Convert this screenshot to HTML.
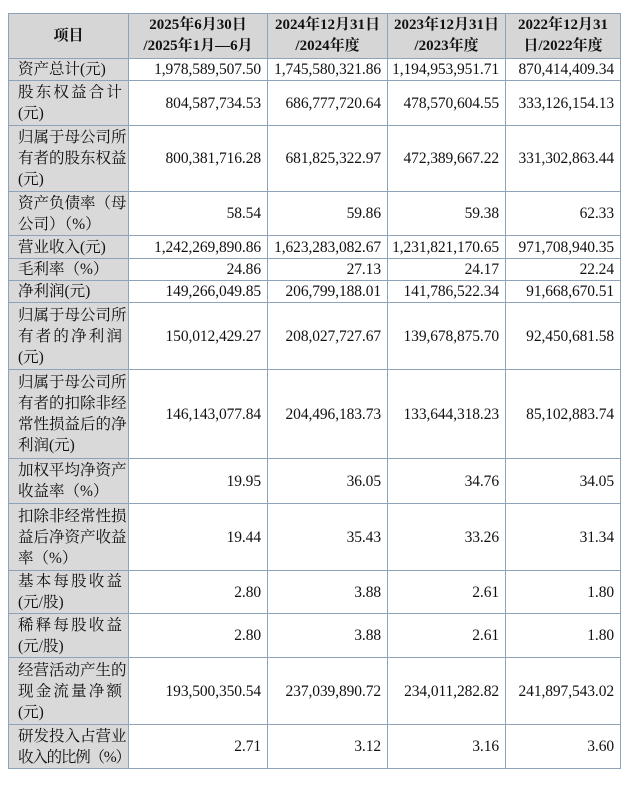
<!DOCTYPE html>
<html><head><meta charset="utf-8"><style>
html,body{margin:0;padding:0;background:#fff;width:640px;height:785px;overflow:hidden}
table{position:absolute;left:8px;top:13px;width:612px;border-collapse:collapse;table-layout:fixed;font-family:"Liberation Serif","Noto Serif CJK SC",serif;font-size:15px;color:#111}
td,th{border:1.3px solid #8ea3ba;padding:0;line-height:21px;vertical-align:middle;overflow:hidden}
th{background:#d6d6d6;font-weight:bold;text-align:center;font-size:15px;white-space:nowrap}
td.l{background:#d9d9d9;padding:0 6px 0 9px;font-size:15.5px}
td.l span{display:block;white-space:nowrap}
td.l span.j{text-align:justify;text-align-last:justify}
td.l span.t{letter-spacing:-1.2px}
td.n{text-align:right;padding-right:6px;white-space:nowrap;font-size:15.5px;letter-spacing:-0.1px}
</style></head><body>
<table>
<colgroup><col style="width:120px"><col style="width:139px"><col style="width:120px"><col style="width:118px"><col style="width:115px"></colgroup>
<tr style="height:45px"><th>项目</th><th>2025年6月30日<br>/2025年1月—6月</th><th>2024年12月31日<br>/2024年度</th><th>2023年12月31日<br>/2023年度</th><th>2022年12月31<br>日/2022年度</th></tr>
<tr style="height:22px"><td class="l"><span>资产总计(元)</span></td><td class="n">1,978,589,507.50</td><td class="n">1,745,580,321.86</td><td class="n">1,194,953,951.71</td><td class="n">870,414,409.34</td></tr>
<tr style="height:45px"><td class="l"><span class="j">股东权益合计</span><span>(元)</span></td><td class="n">804,587,734.53</td><td class="n">686,777,720.64</td><td class="n">478,570,604.55</td><td class="n">333,126,154.13</td></tr>
<tr style="height:66px"><td class="l"><span class="j">归属于母公司所</span><span class="j">有者的股东权益</span><span>(元)</span></td><td class="n">800,381,716.28</td><td class="n">681,825,322.97</td><td class="n">472,389,667.22</td><td class="n">331,302,863.44</td></tr>
<tr style="height:44px"><td class="l"><span class="j">资产负债率（母</span><span>公司）（%）</span></td><td class="n">58.54</td><td class="n">59.86</td><td class="n">59.38</td><td class="n">62.33</td></tr>
<tr style="height:23px"><td class="l"><span>营业收入(元)</span></td><td class="n">1,242,269,890.86</td><td class="n">1,623,283,082.67</td><td class="n">1,231,821,170.65</td><td class="n">971,708,940.35</td></tr>
<tr style="height:22px"><td class="l"><span>毛利率（%）</span></td><td class="n">24.86</td><td class="n">27.13</td><td class="n">24.17</td><td class="n">22.24</td></tr>
<tr style="height:22px"><td class="l"><span>净利润(元)</span></td><td class="n">149,266,049.85</td><td class="n">206,799,188.01</td><td class="n">141,786,522.34</td><td class="n">91,668,670.51</td></tr>
<tr style="height:67px"><td class="l"><span class="j">归属于母公司所</span><span class="j">有者的净利润</span><span>(元)</span></td><td class="n">150,012,429.27</td><td class="n">208,027,727.67</td><td class="n">139,678,875.70</td><td class="n">92,450,681.58</td></tr>
<tr style="height:89px"><td class="l"><span class="j">归属于母公司所</span><span class="j">有者的扣除非经</span><span class="j">常性损益后的净</span><span>利润(元)</span></td><td class="n">146,143,077.84</td><td class="n">204,496,183.73</td><td class="n">133,644,318.23</td><td class="n">85,102,883.74</td></tr>
<tr style="height:45px"><td class="l"><span class="j">加权平均净资产</span><span>收益率（%）</span></td><td class="n">19.95</td><td class="n">36.05</td><td class="n">34.76</td><td class="n">34.05</td></tr>
<tr style="height:67px"><td class="l"><span class="j">扣除非经常性损</span><span class="j">益后净资产收益</span><span>率（%）</span></td><td class="n">19.44</td><td class="n">35.43</td><td class="n">33.26</td><td class="n">31.34</td></tr>
<tr style="height:43px"><td class="l"><span class="j">基本每股收益</span><span>(元/股)</span></td><td class="n">2.80</td><td class="n">3.88</td><td class="n">2.61</td><td class="n">1.80</td></tr>
<tr style="height:44px"><td class="l"><span class="j">稀释每股收益</span><span>(元/股)</span></td><td class="n">2.80</td><td class="n">3.88</td><td class="n">2.61</td><td class="n">1.80</td></tr>
<tr style="height:67px"><td class="l"><span class="j">经营活动产生的</span><span class="j">现金流量净额</span><span>(元)</span></td><td class="n">193,500,350.54</td><td class="n">237,039,890.72</td><td class="n">234,011,282.82</td><td class="n">241,897,543.02</td></tr>
<tr style="height:44px"><td class="l"><span class="j">研发投入占营业</span><span class="t">收入的比例（%）</span></td><td class="n">2.71</td><td class="n">3.12</td><td class="n">3.16</td><td class="n">3.60</td></tr>
</table>
</body></html>
